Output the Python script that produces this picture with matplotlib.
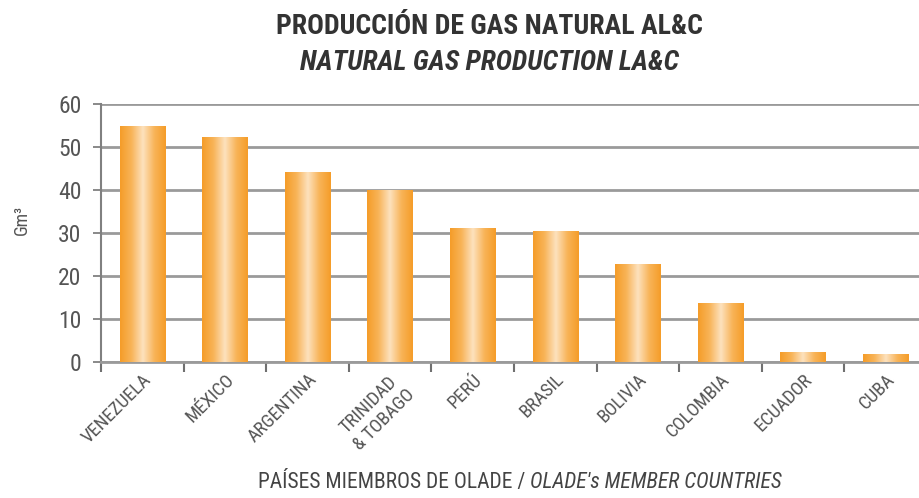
import numpy as np
import matplotlib
matplotlib.use("Agg")
import matplotlib.pyplot as plt
from matplotlib.colors import LinearSegmentedColormap

countries = ["VENEZUELA", "MÉXICO", "ARGENTINA", "TRINIDAD\n& TOBAGO", "PERÚ",
             "BRASIL", "BOLIVIA", "COLOMBIA", "ECUADOR", "CUBA"]
production = [55.0, 52.3, 44.2, 40.0, 31.2, 30.5, 22.8, 13.7, 2.3, 1.9]
yticks = [0, 10, 20, 30, 40, 50, 60]

FONT = "Roboto Condensed"
plt.rcParams['font.family'] = [FONT, 'DejaVu Sans']

fig = plt.figure(figsize=(9.2, 4.98), dpi=100)
ax = fig.add_axes([101/920, 1-362/498, (927-101)/920, (362-104)/498])

x = np.arange(len(countries))
bars = ax.bar(x, production, width=0.55, color="#F6A234", zorder=3)

cmap = LinearSegmentedColormap.from_list("g", ["#F59C28", "#F8B458", "#FDE2BE", "#F8B458", "#F59C28"])
grad = np.linspace(0, 1, 256).reshape(1, -1)
for b in bars:
    x0, y0 = b.get_x(), b.get_y()
    w, h = b.get_width(), b.get_height()
    im = ax.imshow(grad, cmap=cmap, aspect="auto", extent=[x0, x0 + w, y0, y0 + h],
                   zorder=4, interpolation="bicubic")
    im.set_clip_path(b)

ax.set_xlim(-0.5, len(countries) - 0.5)
ax.set_ylim(0, 60)
ax.set_yticks(yticks)
ax.set_yticklabels([str(v) for v in yticks], fontsize=17, color="#555555")
ax.yaxis.grid(True, color="#9a9a9a", linewidth=2.0, zorder=0)
ax.set_axisbelow(True)
for s in ["top", "right"]:
    ax.spines[s].set_visible(False)
ax.spines["left"].set_color("#808080")
ax.spines["left"].set_linewidth(1.5)
ax.spines["bottom"].set_color("#9a9a9a")
ax.spines["bottom"].set_linewidth(2.0)
ax.tick_params(axis="y", length=6, width=1.3, color="#808080", pad=8)

ax.set_xticks(np.arange(len(countries) + 1) - 0.5, minor=True)
ax.set_xticks(x)
ax.set_xticklabels(countries, rotation=45, ha="right", va="top", rotation_mode="anchor",
                   fontsize=13.5, color="#555555", linespacing=1.25, multialignment="center")
ax.tick_params(axis="x", which="major", length=0, pad=6)
ax.tick_params(axis="x", which="minor", length=7, width=1.5, color="#707070", direction="out")

fig.text(22/920, 1-220/498, "Gm³", rotation=90, ha="center", va="center", fontsize=13, color="#555555")

fig.text(0.532, 1-26/498, "PRODUCCIÓN DE GAS NATURAL AL&C", ha="center", va="center",
         fontsize=20, fontweight="bold", color="#333333")
fig.text(0.532, 1-62/498, "NATURAL GAS PRODUCTION LA&C", ha="center", va="center",
         fontsize=20, fontweight="bold", fontstyle="italic", color="#333333")

t1 = fig.text(258/920, 1-482/498, "PAÍSES MIEMBROS DE OLADE / ", ha="left", va="center",
              fontsize=15.5, color="#444444")
ax.annotate("OLADE's MEMBER COUNTRIES", xy=(1, 0.5), xycoords=t1, va="center", ha="left",
            fontsize=15.5, fontstyle="italic", color="#444444", annotation_clip=False)

fig.savefig("out.png", dpi=100)
